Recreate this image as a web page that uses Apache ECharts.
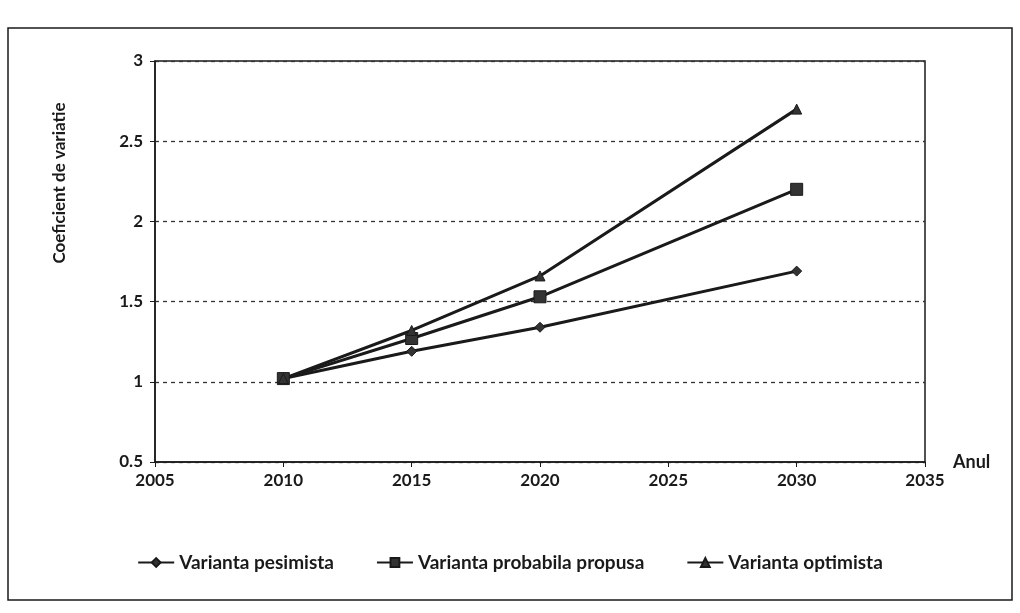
<!DOCTYPE html>
<html>
<head>
<meta charset="utf-8">
<script src="https://cdn.jsdelivr.net/npm/echarts@6/dist/echarts.min.js"></script>
<style>html,body{margin:0;padding:0;background:#fff}#c{width:1020px;height:613px}</style>
</head>
<body>
<div id="c"></div>
<script>
const years = [2010, 2015, 2020, 2030];
const pesimista = [1.02, 1.19, 1.34, 1.69];
const probabila = [1.02, 1.27, 1.53, 2.20];
const optimista = [1.02, 1.32, 1.66, 2.70];
const seriesNames = ['Varianta pesimista', 'Varianta probabila propusa', 'Varianta optimista'];
const xTicks = [2005, 2010, 2015, 2020, 2025, 2030, 2035];
const yTicks = [0.5, 1, 1.5, 2, 2.5, 3];

const FONT = 'Lato';
const INK = '#1a1a1a';
const chart = echarts.init(document.getElementById('c'), null, {renderer: 'canvas'});

function mk(name, ys, symbol, size) {
  return {
    name: name, type: 'line',
    data: years.map((y, i) => [y, ys[i]]),
    symbol: symbol, symbolSize: size,
    lineStyle: {color: INK, width: 3},
    itemStyle: {color: '#333', borderColor: INK, borderWidth: 1},
    emphasis: {disabled: true}, animation: false
  };
}

chart.setOption({
  animation: false,
  backgroundColor: '#fff',
  textStyle: {fontFamily: FONT, color: INK},
  graphic: [
    {type: 'rect', shape: {x: 8, y: 28, width: 1004, height: 572},
     style: {fill: 'none', stroke: INK, lineWidth: 1.5}, silent: true},
    {type: 'text', x: 60, y: 183, rotation: Math.PI / 2,
     style: {text: 'Coeficient de variatie', font: 'bold 17px Lato', fill: INK,
             textAlign: 'center', textVerticalAlign: 'middle'}}
  ],
  grid: {left: 155, right: 95, top: 61, bottom: 151, show: true,
         borderColor: INK, borderWidth: 1.5, backgroundColor: 'transparent'},
  legend: {
    data: seriesNames, bottom: 36, left: 'center', itemGap: 42,
    itemWidth: 36, itemHeight: 11,
    textStyle: {fontFamily: FONT, fontSize: 19, fontWeight: 'bold', color: INK}
  },
  xAxis: {
    type: 'value', min: 2005, max: 2035, interval: 5,
    name: 'Anul', nameLocation: 'end', nameGap: 28,
    nameTextStyle: {fontFamily: FONT, fontSize: 18, fontWeight: 'bold', color: INK},
    axisLine: {show: true, lineStyle: {color: INK, width: 1.5}},
    axisTick: {show: true, length: 5, lineStyle: {color: INK}},
    axisLabel: {fontFamily: FONT, fontSize: 17, fontWeight: 'bold', color: INK, margin: 10,
                formatter: v => xTicks.includes(v) ? String(v) : ''},
    splitLine: {show: false}
  },
  yAxis: {
    type: 'value', min: 0.5, max: 3, interval: 0.5,
    axisLine: {show: true, lineStyle: {color: INK, width: 1.5}},
    axisTick: {show: true, length: 5, lineStyle: {color: INK}},
    axisLabel: {fontFamily: FONT, fontSize: 17, fontWeight: 'bold', color: INK, margin: 12,
                formatter: v => yTicks.includes(v) ? String(v) : ''},
    splitLine: {show: true, lineStyle: {color: '#333', type: [4, 4], width: 1.3}}
  },
  series: [
    mk(seriesNames[0], pesimista, 'diamond', 10),
    mk(seriesNames[1], probabila, 'rect', 12),
    mk(seriesNames[2], optimista, 'triangle', 10)
  ]
});
</script>
</body>
</html>
